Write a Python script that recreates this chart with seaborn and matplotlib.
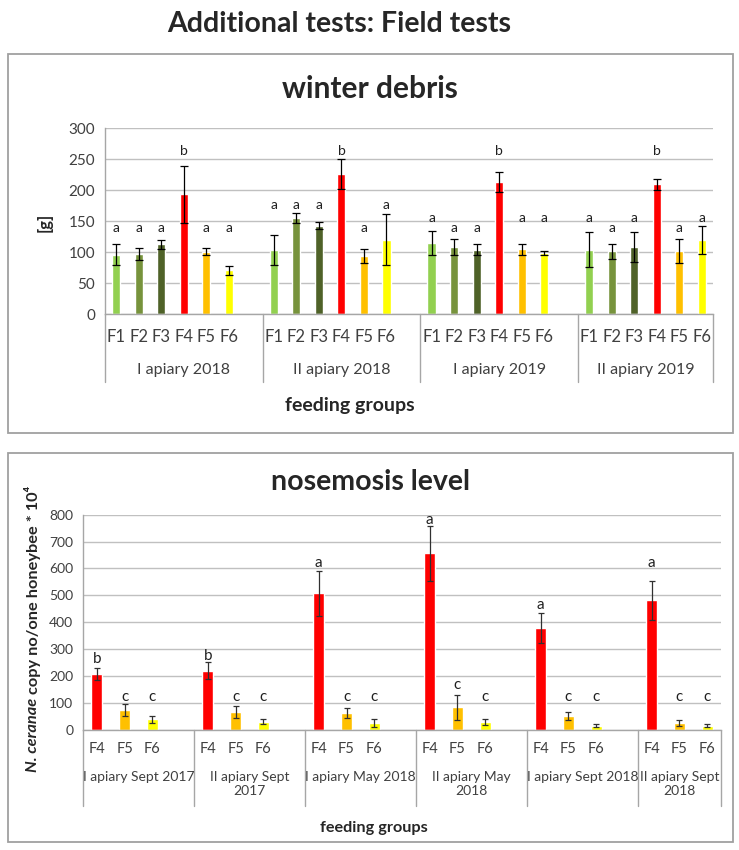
import numpy as np
import pandas as pd
import matplotlib
matplotlib.use("Agg")
import matplotlib.pyplot as plt
import matplotlib.transforms as mtransforms
from matplotlib.patches import Rectangle
import seaborn as sns

# ---- winter debris [g] ----
debris_groups = ["I apiary 2018", "II apiary 2018", "I apiary 2019", "II apiary 2019"]
debris_feeds = ["F1", "F2", "F3", "F4", "F5", "F6"]
debris_mean = [
    [96, 97, 113, 194, 101, 71],
    [104, 156, 143, 226, 94, 120],
    [115, 108, 104, 213, 105, 99],
    [104, 102, 109, 210, 102, 120],
]
debris_err = [
    [17, 10, 7, 46, 6, 7],
    [24, 8, 6, 24, 11, 41],
    [20, 13, 9, 16, 9, 3],
    [28, 12, 24, 9, 20, 22],
]
debris_letters = [
    ["a", "a", "a", "b", "a", "a"],
    ["a", "a", "a", "b", "a", "a"],
    ["a", "a", "a", "b", "a", "a"],
    ["a", "a", "a", "b", "a", "a"],
]
debris_letter_y = [
    [139, 139, 139, 264, 139, 139],
    [177, 177, 177, 264, 139, 177],
    [156, 139, 139, 264, 156, 156],
    [156, 139, 156, 264, 139, 156],
]

# ---- nosemosis level (N. ceranae copy no / one honeybee * 10^4) ----
nosema_groups = ["I apiary Sept 2017", "II apiary Sept\n2017", "I apiary May 2018",
                 "II apiary May\n2018", "I apiary Sept 2018", "II apiary Sept\n2018"]
nosema_feeds = ["F4", "F5", "F6"]
nosema_mean = [
    [206, 72, 38],
    [220, 66, 30],
    [507, 63, 24],
    [656, 83, 28],
    [380, 51, 15],
    [481, 25, 15],
]
nosema_err = [
    [22, 22, 12],
    [31, 23, 9],
    [85, 19, 14],
    [102, 47, 12],
    [56, 14, 6],
    [74, 10, 6],
]
nosema_letters = [
    ["b", "c", "c"],
    ["b", "c", "c"],
    ["a", "c", "c"],
    ["a", "c", "c"],
    ["a", "c", "c"],
    ["a", "c", "c"],
]
nosema_letter_y = [
    [262, 120, 120],
    [275, 120, 120],
    [621, 120, 120],
    [780, 166, 120],
    [463, 120, 120],
    [619, 120, 120],
]

feed_colors = {"F1": "#92D050", "F2": "#77933C", "F3": "#4F6228",
               "F4": "#FF0000", "F5": "#FFC000", "F6": "#FFFF00"}

sns.set_style("white")
plt.rcParams["font.family"] = ["Lato", "DejaVu Sans"]

W, H = 739, 850
fig = plt.figure(figsize=(W / 100, H / 100), dpi=100)

GRID = "#c0c0c0"
AXIS = "#a6a6a6"


def px_axes(left, right, top, bottom):
    return fig.add_axes([left / W, 1 - bottom / H, (right - left) / W, (bottom - top) / H])


def draw_panel(ax, groups, feeds, means, errs, letters, letter_y, ymax, ystep,
               bar_width, err_color, capsize, ytick_fs, xtick_fs, letter_fs,
               tick_pad, grp_y, grp_fs, sep_depth):
    slots = len(feeds) + 1
    rows = []
    for g in range(len(groups)):
        for j, f in enumerate(feeds):
            rows.append(dict(pos=g * slots + j, feed=f, value=means[g][j], err=errs[g][j],
                             letter=letters[g][j], ly=letter_y[g][j]))
    df = pd.DataFrame(rows)
    total = len(groups) * slots - 1

    sns.barplot(data=df, x="pos", y="value", hue="feed", palette=feed_colors,
                native_scale=True, dodge=False, width=bar_width, saturation=1,
                errorbar=None, legend=False, ax=ax, zorder=2)
    ax.errorbar(df["pos"], df["value"], yerr=df["err"], fmt="none", ecolor=err_color,
                elinewidth=0.9, capsize=capsize, capthick=0.9, zorder=3)
    for _, r in df.iterrows():
        ax.text(r["pos"], r["ly"], r["letter"], ha="center", va="center",
                fontsize=letter_fs, color="#202020")

    ax.set_xlim(-0.5, total - 0.5)
    ax.set_ylim(0, ymax)
    ax.set_yticks(np.arange(0, ymax + 1, ystep))
    ax.yaxis.grid(True, color=GRID, lw=1)
    ax.set_axisbelow(True)
    for s in ["top", "right"]:
        ax.spines[s].set_visible(False)
    for s in ["left", "bottom"]:
        ax.spines[s].set_color(AXIS)
        ax.spines[s].set_linewidth(1)
    ax.tick_params(axis="y", length=4, color=AXIS, labelsize=ytick_fs, labelcolor="#404040", pad=3)
    ax.set_xticks(df["pos"])
    ax.set_xticklabels(df["feed"])
    ax.tick_params(axis="x", length=0, labelsize=xtick_fs, labelcolor="#404040", pad=tick_pad)
    ax.set_xlabel("")
    ax.set_ylabel("")

    # multi-level category axis: group separators and group names
    trans = mtransforms.blended_transform_factory(ax.transData, ax.transAxes)
    edges = [g * slots - 0.5 for g in range(len(groups))] + [total - 0.5]
    for x in edges:
        ax.plot([x, x], [0, -sep_depth], transform=trans, color=AXIS, lw=1, clip_on=False)
    for g, name in enumerate(groups):
        c = (edges[g] + edges[g + 1]) / 2
        ax.text(c, grp_y, name, transform=trans, ha="center", va="top",
                fontsize=grp_fs, color="#404040", linespacing=1.2)


# panel frames
for top, bottom in [(54, 433), (453, 842)]:
    fig.add_artist(Rectangle((8 / W, 1 - bottom / H), (733 - 8) / W, (bottom - top) / H,
                             transform=fig.transFigure, fill=False, edgecolor="#a0a0a0", lw=1.3))

fig.text(339 / W, 1 - 24 / H, "Additional tests: Field tests", ha="center", va="center",
         fontsize=20.5, fontweight="bold")

# top chart
ax1 = px_axes(105, 713, 128.3, 314.3)
draw_panel(ax1, debris_groups, debris_feeds, debris_mean, debris_err, debris_letters,
           debris_letter_y, 300, 50, 0.36, "black", 3, 11, 12, 10,
           10.5, -0.26, 11.5, 0.364)
fig.text(370 / W, 1 - 89 / H, "winter debris", ha="center", va="center",
         fontsize=21.5, fontweight="bold")
fig.text(45 / W, 1 - 222 / H, "[g]", ha="center", va="center", rotation=90,
         fontsize=12, fontweight="bold")
fig.text(350 / W, 1 - 405 / H, "feeding groups", ha="center", va="center",
         fontsize=14, fontweight="bold")

# bottom chart
ax2 = px_axes(83, 721, 514.7, 729.7)
draw_panel(ax2, nosema_groups, nosema_feeds, nosema_mean, nosema_err, nosema_letters,
           nosema_letter_y, 800, 100, 0.4, "#303030", 2, 10, 10.5, 11,
           9, -0.19, 10, 0.355)
fig.text(370 / W, 1 - 482 / H, "nosemosis level", ha="center", va="center",
         fontsize=20.5, fontweight="bold")
fig.text(374 / W, 1 - 828 / H, "feeding groups", ha="center", va="center",
         fontsize=11.7, fontweight="bold")
lab1 = fig.text(33 / W, 1 - 735 / H, "N. ceranae", ha="center", va="center", rotation=90,
                fontsize=11.8, fontweight="bold", fontstyle="italic")
ax2.annotate(" copy no/one honeybee * 10\u2074", xy=(0.5, 1), xycoords=lab1,
             ha="center", va="bottom", rotation=90, fontsize=11.8, fontweight="bold",
             annotation_clip=False)

fig.savefig("out.png", dpi=100)
